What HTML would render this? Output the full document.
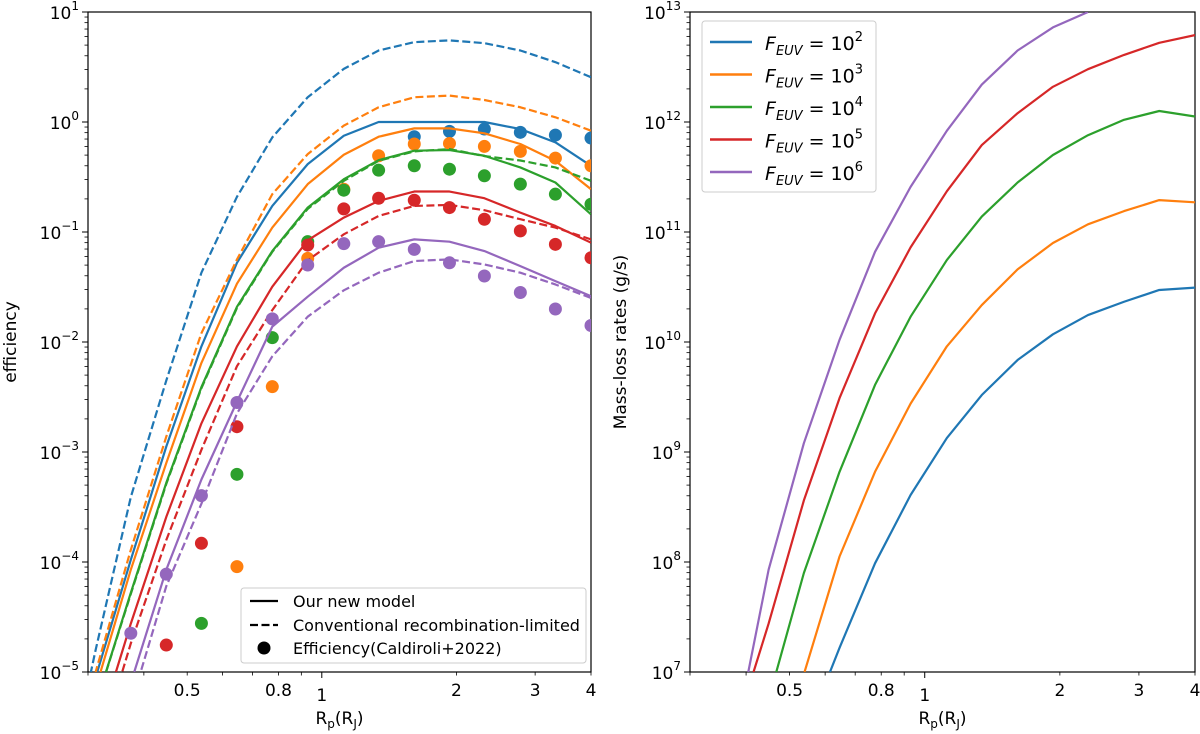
<!DOCTYPE html>
<html><head><meta charset="utf-8"><title>Efficiency and mass-loss rates</title>
<style>
html,body{margin:0;padding:0;background:#fff;width:1200px;height:734px;overflow:hidden;}
svg{display:block;font-family:"DejaVu Sans","Liberation Sans",sans-serif;}
</style></head>
<body>
<svg id="chart" width="1200" height="734" viewBox="0 0 1200 734" xmlns="http://www.w3.org/2000/svg">
<defs>
<clipPath id="clipL"><rect x="88" y="12" width="503" height="660"/></clipPath>
<clipPath id="clipR"><rect x="690" y="12" width="505" height="660"/></clipPath>
</defs>
<g id="left"></g>
<g id="right"></g>
</svg>
<script>
// Planet radius grid (R_J)
const radii = [4, 3.33, 2.78, 2.31, 1.93, 1.61, 1.34, 1.12, 0.93, 0.775, 0.646, 0.538, 0.449, 0.374, 0.312, 0.26];
const seriesNames = ["F_EUV=1e2","F_EUV=1e3","F_EUV=1e4","F_EUV=1e5","F_EUV=1e6"];
const colors = ["#1f77b4","#ff7f0e","#2ca02c","#d62728","#9467bd"];
// Left panel: log10(efficiency), "Our new model"
const effNewBlue   = [-0.398,-0.185,-0.064,0,0,0,0,-0.125,-0.383,-0.763,-1.28,-2.04,-2.95,-3.98,-5.05];
const effNewOrange = [-0.611,-0.353,-0.2,-0.103,-0.058,-0.058,-0.134,-0.298,-0.565,-0.96,-1.47,-2.19,-3.1,-4.07,-5.15];
const effNewGreen  = [-0.839,-0.55,-0.413,-0.307,-0.255,-0.261,-0.347,-0.52,-0.778,-1.173,-1.68,-2.41,-3.28,-4.28,-5.3];
const effNewRed    = [-1.097,-0.945,-0.824,-0.693,-0.632,-0.632,-0.717,-0.869,-1.076,-1.497,-2.04,-2.74,-3.59,-4.56,-5.6];
const effNewPurple = [-1.584,-1.447,-1.31,-1.173,-1.088,-1.067,-1.143,-1.325,-1.588,-1.86,-2.543,-3.25,-4.07,-5.1];
// Left panel: log10(efficiency), conventional recombination-limited
const effConvBlue   = [0.407,0.544,0.65,0.717,0.742,0.726,0.65,0.483,0.225,-0.14,-0.68,-1.37,-2.35,-3.41,-4.8,-6.3];
const effConvOrange = [-0.079,0.043,0.134,0.2,0.24,0.225,0.134,-0.033,-0.292,-0.656,-1.25,-1.92,-2.86,-3.89,-5.0];
const effConvGreen  = [-0.535,-0.413,-0.35,-0.31,-0.246,-0.267,-0.353,-0.535,-0.79,-1.18,-1.69,-2.42,-3.29,-4.29,-5.3];
const effConvRed    = [-1.067,-0.96,-0.884,-0.802,-0.754,-0.763,-0.854,-1.021,-1.258,-1.71,-2.22,-2.98,-3.8,-4.74,-5.8];
const effConvPurple = [-1.6,-1.477,-1.37,-1.295,-1.249,-1.264,-1.37,-1.53,-1.77,-2.13,-2.65,-3.47,-4.22,-5.3];
// Left panel: log10(efficiency), Caldiroli+2022 points
const dotBlue   = [-0.146,-0.119,-0.094,-0.064,-0.085,-0.134];
const dotOrange = [-0.398,-0.328,-0.267,-0.222,-0.195,-0.2,-0.307,-0.611,-1.24,-2.406,-4.042];
const dotGreen  = [-0.748,-0.656,-0.565,-0.489,-0.429,-0.398,-0.438,-0.62,-1.088,-1.96,-3.203,-4.558];
const dotRed    = [-1.234,-1.112,-0.99,-0.884,-0.778,-0.711,-0.693,-0.79,-1.119,null,-2.77,-3.83,-4.755];
const dotPurple = [-1.85,-1.7,-1.55,-1.4,-1.28,-1.158,-1.088,-1.106,-1.3,-1.79,-2.55,-3.397,-4.11,-4.648];
// Right panel: log10(mass-loss rate g/s)
const massBlue   = [10.494,10.473,10.366,10.245,10.07,9.836,9.518,9.127,8.609,7.988,7.22,6.4];
const massOrange = [11.27,11.29,11.19,11.07,10.9,10.66,10.336,9.96,9.44,8.82,8.05,6.98,6.2];
const massGreen  = [12.05,12.1,12.02,11.88,11.7,11.45,11.14,10.745,10.23,9.61,8.82,7.9,6.75];
const massRed    = [12.79,12.72,12.61,12.48,12.32,12.08,11.79,11.37,10.86,10.26,9.49,8.56,7.44,6.4];
const massPurple = [13.35,13.25,13.13,13.0,12.86,12.65,12.34,11.92,11.41,10.82,10.02,9.08,7.93,6.3];
// Ticks
const xTickLabels = ["0.5","0.8","1","2","3","4"];
const xTickValues = [0.5,0.8,1,2,3,4];
const xMinorValues = [0.3,0.4,0.6,0.7,0.9];
const leftYExps = [1,0,-1,-2,-3,-4,-5];
const rightYExps = [13,12,11,10,9,8,7];
const legendLabelsLeft = ["Our new model","Conventional recombination-limited","Efficiency(Caldiroli+2022)"];
const legendExpsRight = ["2","3","4","5","6"];

const NS="http://www.w3.org/2000/svg";
function mk(tag, attrs, parent){const e=document.createElementNS(NS,tag);for(const k in attrs)e.setAttribute(k,attrs[k]);parent.appendChild(e);return e;}
const xmin=0.3,xmax=4;
function xScale(x0,x1){return r=>x0+(x1-x0)*Math.log10(r/xmin)/Math.log10(xmax/xmin);}
function yScale(y0,y1,lo,hi){return lv=>y1-(y1-y0)*(lv-lo)/(hi-lo);}

function axes(g,x0,x1,y0,y1,lo,hi,exps){
  const xs=xScale(x0,x1), ys=yScale(y0,y1,lo,hi);
  const frame=mk('rect',{x:x0,y:y0,width:x1-x0,height:y1-y0,fill:'none',stroke:'#000','stroke-width':1.2},g);
  
  
  for(let d=lo; d<=hi; d++){
    const y=ys(d);
    const t=mk('line',{x1:x0-6,x2:x0,y1:y,y2:y,stroke:'#000','stroke-width':1},g);
    
    
    if(d<hi){for(let m=2;m<=9;m++){const ym=ys(d+Math.log10(m));
      const mt=mk('line',{x1:x0-3.5,x2:x0,y1:ym,y2:ym,stroke:'#000','stroke-width':0.8},g);
      
      }}
  }
  exps.forEach(e=>{
    const tx=mk('text',{x:x0-9,y:ys(e)+7,'text-anchor':'end','font-size':17},g);
    
    
    const sExp=String(e).replace('-','\u2212');
    tx.innerHTML='10<tspan font-size="12" dy="-9">'+sExp+'</tspan>';
  });
  xMinorValues.forEach(v=>{const x=xs(v);
    const t=mk('line',{x1:x,x2:x,y1:y1,y2:y1+3.5,stroke:'#000','stroke-width':0.8},g);
    
    });
  xTickValues.forEach((v,i)=>{const x=xs(v);const major=(v===1);
    const t=mk('line',{x1:x,x2:x,y1:y1,y2:y1+(major?6:3.5),stroke:'#000','stroke-width':major?1:0.8},g);
    
    
    const tl=mk('text',{x:x,y:major?701:696,'text-anchor':'middle','font-size':17},g);
    
    
    tl.textContent=xTickLabels[i];});
  const xl=mk('text',{x:(x0+x1)/2,y:724,'text-anchor':'middle','font-size':17},g);
  
  
  xl.innerHTML='R<tspan font-size="12" dy="4">p</tspan><tspan dy="-4">(R</tspan><tspan font-size="12" dy="4">J</tspan><tspan dy="-4">)</tspan>';
  return {xs,ys};
}

// clip a polyline vertically to [top,bot]
function clipPts(pts,top,bot){
  const out=[];
  const inside=p=>p[1]>=top&&p[1]<=bot;
  for(let i=0;i<pts.length;i++){
    const p=pts[i];
    if(i>0){
      const a=pts[i-1];
      [top,bot].forEach(b=>{
        if((a[1]-b)*(p[1]-b)<0){const t=(b-a[1])/(p[1]-a[1]);out.push([a[0]+t*(p[0]-a[0]),b]);}
      });
    }
    if(inside(p))out.push(p);
  }
  return out;
}
function line(g,xs,ys,vals,color,dashed,name){
  let pts=[];vals.forEach((v,i)=>{if(v!==null&&v!==undefined)pts.push([xs(radii[i]),ys(v)]);});
  pts=clipPts(pts,12,672);
  const p=mk('polyline',{points:pts.map(q=>q[0].toFixed(2)+','+q[1].toFixed(2)).join(' '),fill:'none',stroke:color,'stroke-width':2.2,'stroke-linejoin':'round'},g);
  if(dashed)p.setAttribute('stroke-dasharray','8,3.5');
  
  
}
function dots(g,xs,ys,vals,color,name){
  vals.forEach((v,i)=>{if(v===null)return;
    const c=mk('circle',{cx:xs(radii[i]),cy:ys(v),r:6.5,fill:color},g);
    
    });
}

const L=document.getElementById('left');
const la=axes(L,88,591,12,672,-5,1,leftYExps);
const yl=mk('text',{x:0,y:0,'text-anchor':'middle','font-size':17,transform:'translate(16,342) rotate(-90)'},L);


yl.textContent='efficiency';
const Lc=mk('g',{'clip-path':'url(#clipL)'},L);


const newS=[effNewBlue,effNewOrange,effNewGreen,effNewRed,effNewPurple];
const convS=[effConvBlue,effConvOrange,effConvGreen,effConvRed,effConvPurple];
const dotS=[dotBlue,dotOrange,dotGreen,dotRed,dotPurple];
const cn=['blue','orange','green','red','purple'];
for(let i=0;i<5;i++){
  line(Lc,la.xs,la.ys,newS[i],colors[i],false,'new-model-line-'+cn[i]);
  line(Lc,la.xs,la.ys,convS[i],colors[i],true,'conventional-line-'+cn[i]);
  dots(Lc,la.xs,la.ys,dotS[i],colors[i],'caldiroli-point-'+cn[i]);
}
const lg=mk('g',{},L);


mk('rect',{x:241,y:588,width:345,height:75,rx:3,fill:'#fff','fill-opacity':0.8,stroke:'#ccc','stroke-width':1},lg);
const ly=[601,625,648];
const s1=mk('line',{x1:250,x2:278,y1:ly[0],y2:ly[0],stroke:'#000','stroke-width':2.2},lg);


const s2=mk('line',{x1:250,x2:278,y1:ly[1],y2:ly[1],stroke:'#000','stroke-width':2.2,'stroke-dasharray':'8,3.5'},lg);


const s3=mk('circle',{cx:264,cy:ly[2],r:6.5,fill:'#000'},lg);


legendLabelsLeft.forEach((t,i)=>{const tx=mk('text',{x:293,y:ly[i]+6,'font-size':16},lg);
  
  
  tx.textContent=t;});

const R=document.getElementById('right');
const ra=axes(R,690,1195,12,672,7,13,rightYExps);
const yr=mk('text',{x:0,y:0,'text-anchor':'middle','font-size':17,transform:'translate(626,342) rotate(-90)'},R);


yr.textContent='Mass-loss rates (g/s)';
const Rc=mk('g',{'clip-path':'url(#clipR)'},R);


const massS=[massBlue,massOrange,massGreen,massRed,massPurple];
for(let i=0;i<5;i++) line(Rc,ra.xs,ra.ys,massS[i],colors[i],false,'mass-loss-line-'+cn[i]);
const rg=mk('g',{},R);


mk('rect',{x:702,y:21,width:174,height:171,rx:3,fill:'#fff','fill-opacity':0.8,stroke:'#ccc','stroke-width':1},rg);
legendExpsRight.forEach((e,i)=>{const y=42+i*32.5;
  const sw=mk('line',{x1:710,x2:752,y1:y,y2:y,stroke:colors[i],'stroke-width':2.4},rg);
  
  
  const tx=mk('text',{x:765,y:y+8,'font-size':19},rg);
  
  
  tx.innerHTML='<tspan font-style="italic">F</tspan><tspan font-style="italic" font-size="13" dy="5">EUV</tspan><tspan dy="-5"> = 10</tspan><tspan font-size="13" dy="-9">'+e+'</tspan>';
});
</script>
</body></html>
